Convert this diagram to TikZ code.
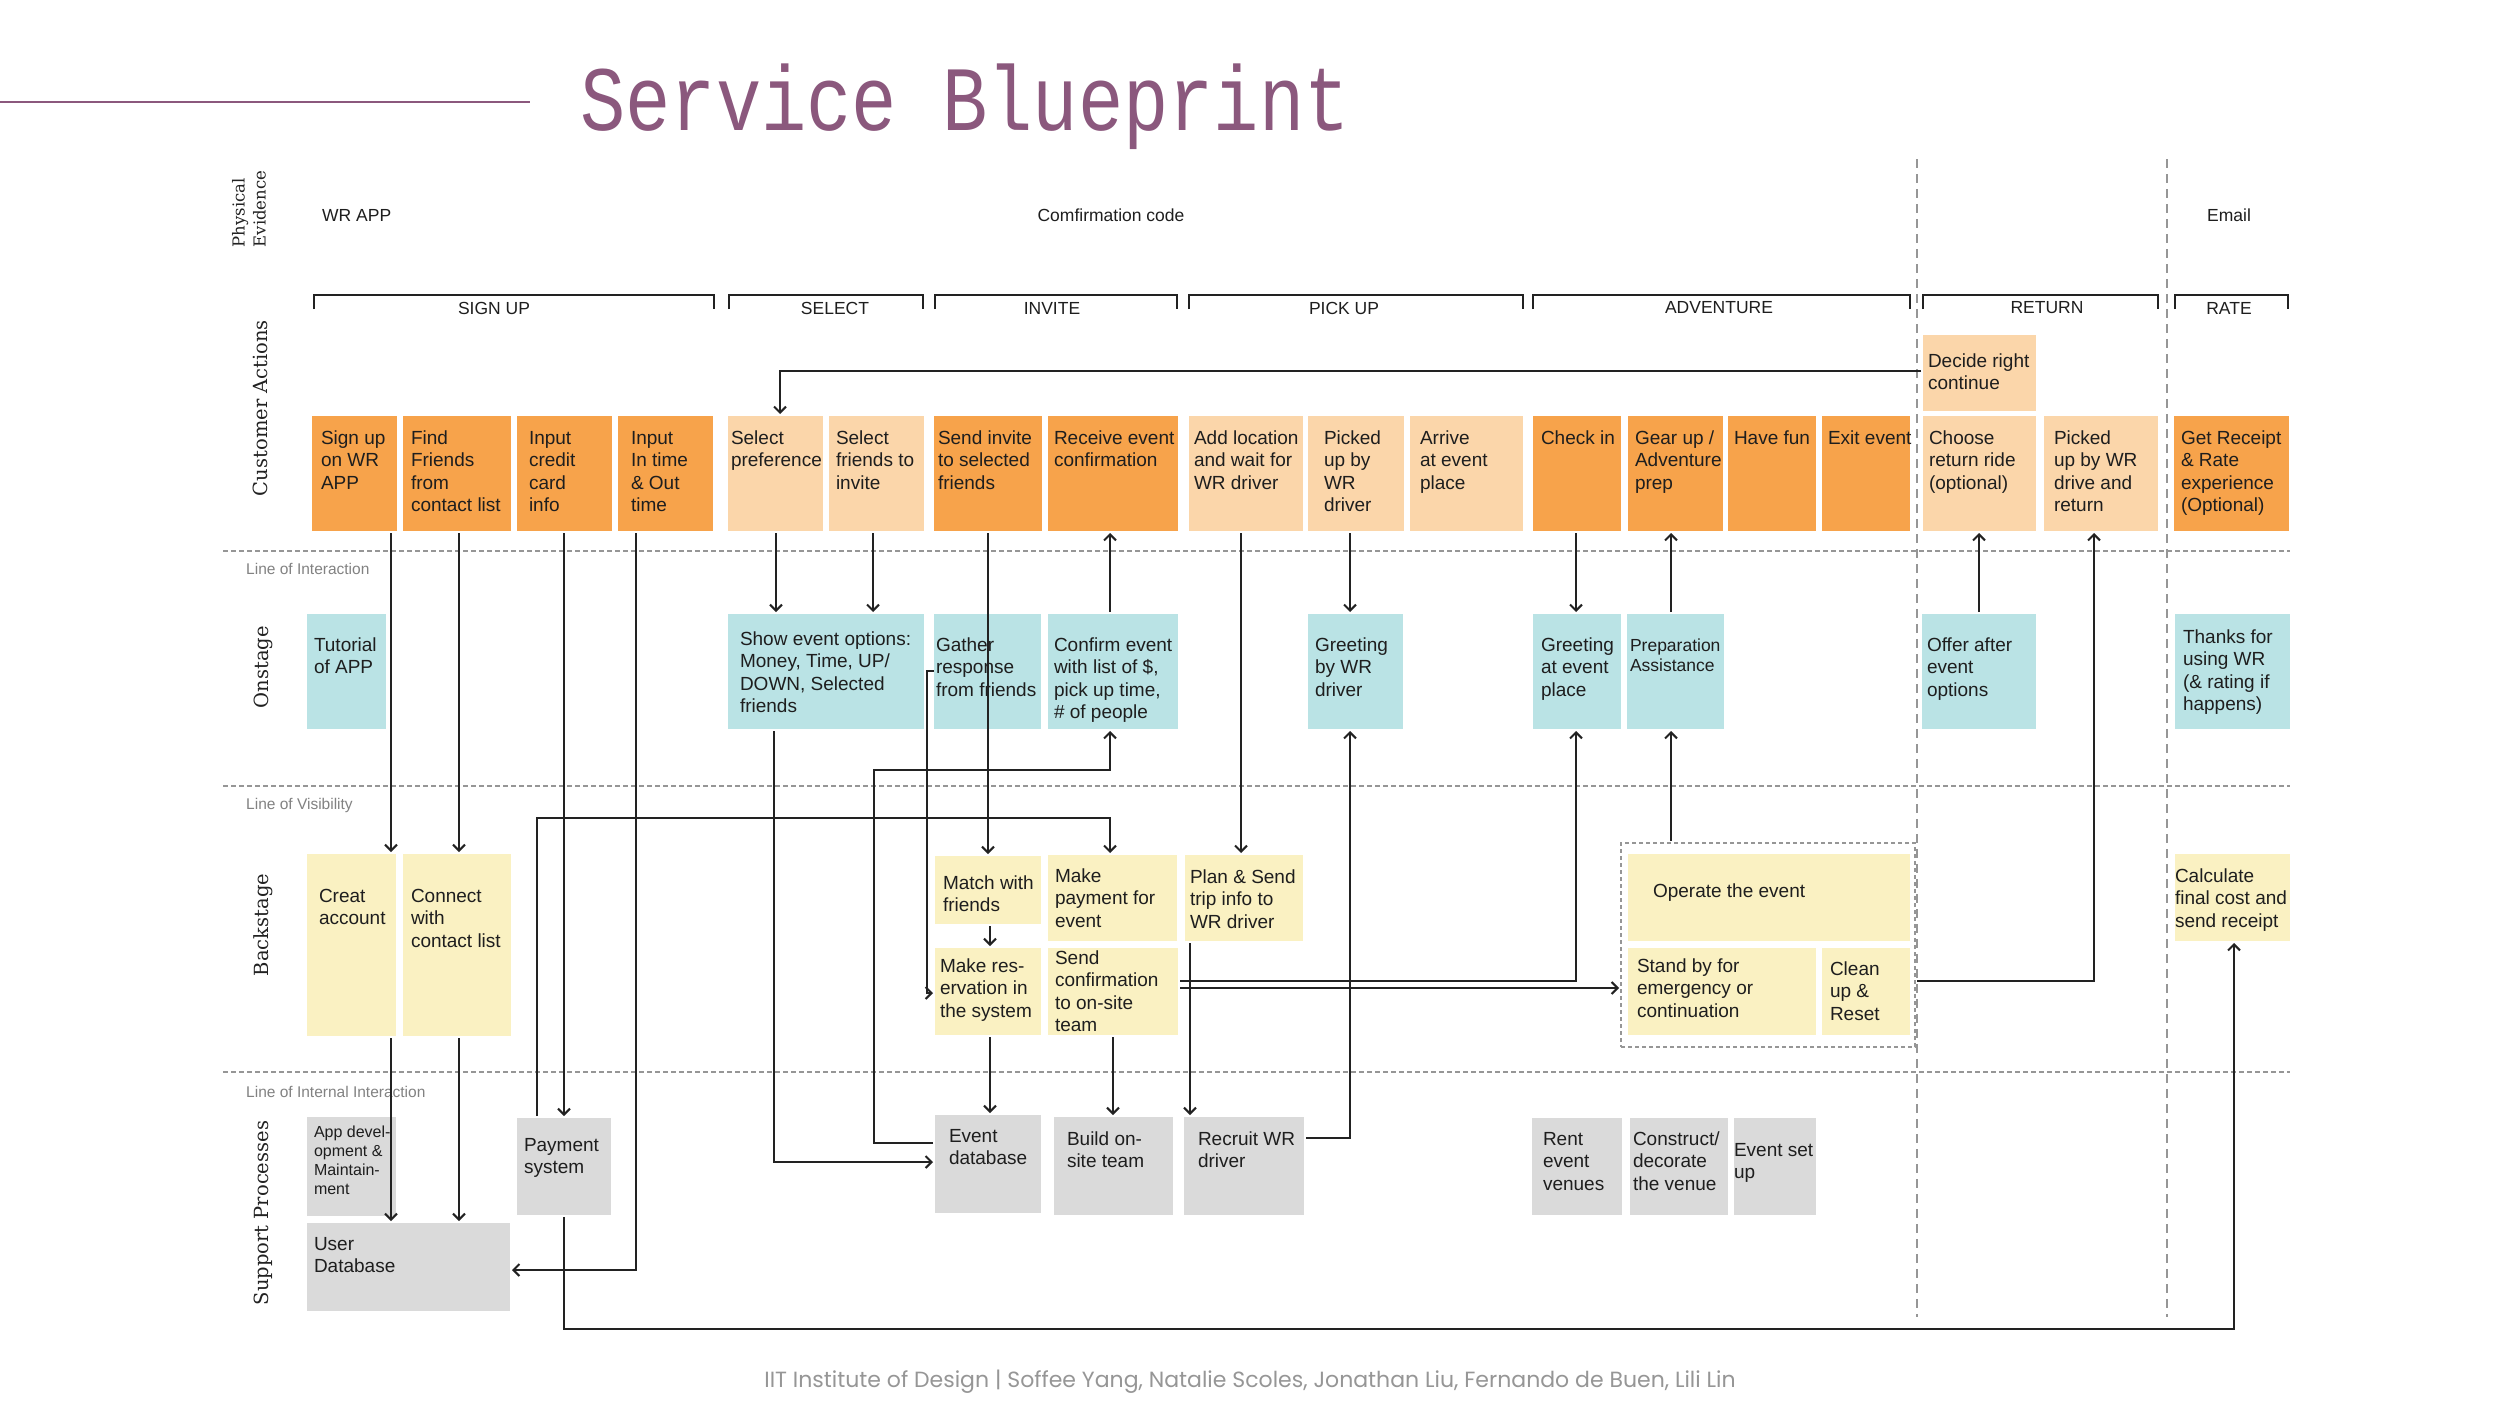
\documentclass[tikz,border=0pt]{standalone}
\usepackage{fontspec}
\setmainfont{Liberation Sans}
\newfontfamily\titlefont{Liberation Mono}[FakeStretch=0.82]
\newfontfamily\lanefont{DejaVu Serif}
\newfontfamily\footfont{Poppins}
\usetikzlibrary{arrows.meta}
\definecolor{orD}{RGB}{247,163,75}
\definecolor{orL}{RGB}{251,214,170}
\definecolor{teal}{RGB}{186,227,229}
\definecolor{yel}{RGB}{250,241,194}
\definecolor{grb}{RGB}{218,218,218}
\definecolor{linec}{RGB}{34,34,34}
\definecolor{txtc}{RGB}{30,30,30}
\definecolor{purp}{RGB}{139,88,125}
\definecolor{sepc}{RGB}{150,150,150}
\definecolor{labc}{RGB}{130,130,130}
\definecolor{footc}{RGB}{150,150,150}
\tikzset{
  boxst/.style={draw=none, inner sep=0pt, outer sep=0pt},
  txt/.style={inner sep=0pt, outer sep=0pt, align=left, text=txtc, font=\fontsize{19}{22.5}\selectfont},
  stxt/.style={txt, font=\fontsize{16}{19}\selectfont},
  ptxt/.style={txt, font=\fontsize{17.5}{20}\selectfont},
  arr/.style={draw=linec, line width=2pt, shorten >=2pt, shorten <=2pt, -{Straight Barb[length=6pt,width=12pt]}},
  lane/.style={rotate=90, inner sep=0pt, text=linec, font=\lanefont\fontsize{19.5}{22}\selectfont},
  brkst/.style={draw=linec, line width=2.5pt},
  brklab/.style={inner sep=0pt, text=txtc, font=\fontsize{17.5}{20}\selectfont},
  petxt/.style={inner sep=0pt, text=txtc, font=\fontsize{17.5}{20}\selectfont},
  sepline/.style={draw=sepc, line width=2pt, dash pattern=on 5pt off 3pt},
  vsep/.style={draw=sepc, line width=1.5pt, dash pattern=on 9pt off 6pt},
  seplab/.style={inner sep=0pt, anchor=west, text=labc, font=\fontsize{15.5}{18}\selectfont},
}
\newcommand\bx[6]{\node[boxst, fill=#2, minimum width={(#5-#3)*1pt}, minimum height={(#6-#4)*1pt}, anchor=north west] (#1) at (#3,#4) {};}
\newcommand\tx[5][txt]{\node[#1, anchor=north west] (#2t) at ([xshift=#3pt, yshift={(17-#4)*1pt}]#2.north west) {\rule{0pt}{17pt}#5};}
\newcommand\brk[5]{\draw[brkst] (#2,309) -- (#2,295) -- (#3,295) -- (#3,309); \node[brklab] (#1) at (#4,308) {#5};}
\begin{document}
\begin{tikzpicture}[x=1pt,y=-1pt]
\useasboundingbox[fill=white] (0,0) rectangle (2500,1406);
% title
\draw[purp, line width=2.5pt] (0,102) -- (530,102);
\node[anchor=base west, inner sep=0pt, text=purp, font=\titlefont\fontsize{92}{92}\selectfont] (title) at (580,130) {Service Blueprint};
% separators
\draw[sepline] (223,551) -- (2290,551);
\draw[sepline] (223,786) -- (2290,786);
\draw[sepline] (223,1072) -- (2290,1072);
\draw[vsep] (1917,159) -- (1917,1317);
\draw[vsep] (2167,159) -- (2167,1317);
\node[seplab] (l1) at (246,569) {Line of Interaction};
\node[seplab] (l2) at (246,805) {Line of Visibility};
\node[seplab] (l3) at (246,1092) {Line of Internal Interaction};
% lane labels
\node[lane, align=left, font=\lanefont\fontsize{16.5}{21}\selectfont] (pe) at (249,209) {Physical\\Evidence};
\node[lane] (lca) at (260,408) {Customer Actions};
\node[lane] (lon) at (263,667) {Onstage};
\node[lane] (lba) at (263,925) {Backstage};
\node[lane] (lsp) at (263,1213) {Support Processes};
% physical evidence
\node[petxt, anchor=west] (pe1) at (322,215) {WR APP};
\node[petxt] (pe2) at (1111,215) {Comfirmation code};
\node[petxt] (pe3) at (2229,215) {Email};
% brackets
\brk{bsign}{314}{714}{494}{SIGN UP}
\brk{bsel}{729}{923}{835}{SELECT}
\brk{binv}{935}{1177}{1052}{INVITE}
\brk{bpick}{1189}{1523}{1344}{PICK UP}
\brk{badv}{1533}{1910}{1719}{ADVENTURE}
\brk{bret}{1923}{2158}{2047}{RETURN}
\brk{brate}{2175}{2288}{2229}{RATE}
% customer actions
\bx{signup}{orD}{312}{416}{397}{531}\tx{signup}{9}{28}{Sign up\\on WR\\APP}
\bx{findf}{orD}{403}{416}{511}{531}\tx{findf}{8}{28}{Find\\Friends\\from\\contact list}
\bx{credit}{orD}{517}{416}{612}{531}\tx{credit}{12}{28}{Input\\credit\\card\\info}
\bx{intime}{orD}{618}{416}{713}{531}\tx{intime}{13}{28}{Input\\In time\\\& Out\\time}
\bx{selpref}{orL}{728}{416}{823}{531}\tx{selpref}{3}{28}{Select\\preference}
\bx{selfr}{orL}{829}{416}{924}{531}\tx{selfr}{7}{28}{Select\\friends to\\invite}
\bx{sendinv}{orD}{934}{416}{1042}{531}\tx{sendinv}{4}{28}{Send invite\\to selected\\friends}
\bx{receive}{orD}{1048}{416}{1178}{531}\tx{receive}{6}{28}{Receive event\\confirmation}
\bx{addloc}{orL}{1189}{416}{1303}{531}\tx{addloc}{5}{28}{Add location\\and wait for\\WR driver}
\bx{pickedup}{orL}{1308}{416}{1404}{531}\tx{pickedup}{16}{28}{Picked\\up by\\WR\\driver}
\bx{arrive}{orL}{1410}{416}{1523}{531}\tx{arrive}{10}{28}{Arrive\\at event\\place}
\bx{checkin}{orD}{1533}{416}{1621}{531}\tx{checkin}{8}{28}{Check in}
\bx{gearup}{orD}{1628}{416}{1723}{531}\tx{gearup}{7}{28}{Gear up /\\Adventure\\prep}
\bx{havefun}{orD}{1728}{416}{1816}{531}\tx{havefun}{6}{28}{Have fun}
\bx{exitev}{orD}{1822}{416}{1910}{531}\tx{exitev}{6}{28}{Exit event}
\bx{choose}{orL}{1923}{416}{2036}{531}\tx{choose}{6}{28}{Choose\\return ride\\(optional)}
\bx{pickret}{orL}{2044}{416}{2158}{531}\tx{pickret}{10}{28}{Picked\\up by WR\\drive and\\return}
\bx{getrec}{orD}{2174}{416}{2289}{531}\tx{getrec}{7}{28}{Get Receipt\\\& Rate\\experience\\(Optional)}
\bx{decide}{orL}{1923}{335}{2036}{411}\tx{decide}{5}{32}{Decide right\\continue}
% onstage
\bx{tutorial}{teal}{307}{614}{386}{729}\tx{tutorial}{7}{37}{Tutorial\\of APP}
\bx{showopt}{teal}{728}{614}{924}{729}\tx{showopt}{12}{31}{Show event options:\\Money, Time, UP/\\DOWN, Selected\\friends}
\bx{gather}{teal}{934}{614}{1041}{729}\tx{gather}{2}{37}{Gather\\response\\from friends}
\bx{confirm}{teal}{1048}{614}{1178}{729}\tx{confirm}{6}{37}{Confirm event\\with list of \$,\\pick up time,\\\# of people}
\bx{greetwr}{teal}{1308}{614}{1403}{729}\tx{greetwr}{7}{37}{Greeting\\by WR\\driver}
\bx{greetev}{teal}{1533}{614}{1621}{729}\tx{greetev}{8}{37}{Greeting\\at event\\place}
\bx{prep}{teal}{1627}{614}{1724}{729}\tx[ptxt]{prep}{3}{37}{Preparation\\Assistance}
\bx{offer}{teal}{1922}{614}{2036}{729}\tx{offer}{5}{37}{Offer after\\event\\options}
\bx{thanks}{teal}{2175}{614}{2290}{729}\tx{thanks}{8}{29}{Thanks for\\using WR\\(\& rating if\\happens)}
% backstage
\bx{creat}{yel}{307}{854}{396}{1036}\tx{creat}{12}{48}{Creat\\account}
\bx{connect}{yel}{403}{854}{511}{1036}\tx{connect}{8}{48}{Connect\\with\\contact list}
\bx{match}{yel}{935}{856}{1041}{924}\tx{match}{8}{33}{Match with\\friends}
\bx{makepay}{yel}{1048}{855}{1177}{941}\tx{makepay}{7}{27}{Make\\payment for\\event}
\bx{plan}{yel}{1185}{855}{1303}{941}\tx{plan}{5}{28}{Plan \& Send\\trip info to\\WR driver}
\bx{makeres}{yel}{935}{948}{1041}{1035}\tx{makeres}{5}{24}{Make res-\\ervation in\\the system}
\bx{sendconf}{yel}{1048}{948}{1178}{1035}\tx{sendconf}{7}{16}{Send\\confirmation\\to on-site\\team}
\node[boxst, draw=sepc, line width=2pt, dash pattern=on 4pt off 3pt, minimum width=294pt, minimum height=204pt, anchor=north west] (opbox) at (1621,843) {};
\bx{operate}{yel}{1628}{854}{1910}{941}\tx{operate}{25}{43}{Operate the event}
\bx{standby}{yel}{1628}{948}{1816}{1035}\tx{standby}{9}{24}{Stand by for\\emergency or\\continuation}
\bx{clean}{yel}{1822}{948}{1910}{1035}\tx{clean}{8}{27}{Clean\\up \&\\Reset}
\bx{calc}{yel}{2175}{854}{2290}{941}\tx{calc}{0}{28}{Calculate\\final cost and\\send receipt}
% support
\bx{appdev}{grb}{307}{1117}{396}{1216}\tx[stxt]{appdev}{7}{20}{App devel-\\opment \&\\Maintain-\\ment}
\bx{payment}{grb}{517}{1118}{611}{1215}\tx{payment}{7}{33}{Payment\\system}
\bx{userdb}{grb}{307}{1223}{510}{1311}\tx{userdb}{7}{27}{User\\Database}
\bx{evdb}{grb}{935}{1115}{1041}{1213}\tx{evdb}{14}{27}{Event\\database}
\bx{build}{grb}{1054}{1117}{1173}{1215}\tx{build}{13}{28}{Build on-\\site team}
\bx{recruit}{grb}{1184}{1117}{1304}{1215}\tx{recruit}{14}{28}{Recruit WR\\driver}
\bx{rent}{grb}{1532}{1118}{1622}{1215}\tx{rent}{11}{27}{Rent\\event\\venues}
\bx{construct}{grb}{1630}{1118}{1728}{1215}\tx{construct}{3}{27}{Construct/\\decorate\\the venue}
\bx{evsetup}{grb}{1734}{1118}{1816}{1215}\tx{evsetup}{0}{38}{Event set\\up}
% connectors
\draw[arr] (391,0 |- signup.south) -- (391,0 |- creat.north);
\draw[arr] (391,0 |- creat.south) -- (391,0 |- userdb.north);
\draw[arr] (459,0 |- findf.south) -- (459,0 |- connect.north);
\draw[arr] (459,0 |- connect.south) -- (459,0 |- userdb.north);
\draw[arr] (564,0 |- credit.south) -- (564,0 |- payment.north);
\draw[arr] (537,0 |- payment.north) -- (537,818) -| (1110,0 |- makepay.north);
\draw[arr] (636,0 |- intime.south) |- (userdb.east |- 0,1270);
\draw[arr] (564,0 |- payment.south) -- (564,1329) -| (2234,0 |- calc.south);
\draw[arr] (776,0 |- selpref.south) -- (776,0 |- showopt.north);
\draw[arr] (873,0 |- selfr.south) -- (873,0 |- showopt.north);
\draw[arr] (774,0 |- showopt.south) |- (evdb.west |- 0,1162);
\draw[arr] (988,0 |- sendinv.south) -- (988,0 |- match.north);
\draw[arr, shorten <=0pt] (gather.west |- 0,671) -- (927,671) |- (makeres.west |- 0,993);
\draw[arr] (990,0 |- match.south) -- (990,0 |- makeres.north);
\draw[arr] (990,0 |- makeres.south) -- (990,0 |- evdb.north);
\draw[arr] (evdb.west |- 0,1143) -| (874,770) -| (1110,0 |- confirm.south);
\draw[arr] (1110,0 |- confirm.north) -- (1110,0 |- receive.south);
\draw[arr] (1113,0 |- sendconf.south) -- (1113,0 |- build.north);
\draw[arr] (sendconf.east |- 0,981) -| (1576,0 |- greetev.south);
\draw[arr] (sendconf.east |- 0,988) -- (opbox.west |- 0,988);
\draw[arr] (1241,0 |- addloc.south) -- (1241,0 |- plan.north);
\draw[arr] (1190,0 |- plan.south) -- (1190,0 |- recruit.north);
\draw[arr] (recruit.east |- 0,1138) -| (1350,0 |- greetwr.south);
\draw[arr] (1350,0 |- pickedup.south) -- (1350,0 |- greetwr.north);
\draw[arr] (1576,0 |- checkin.south) -- (1576,0 |- greetev.north);
\draw[arr] (1671,0 |- prep.north) -- (1671,0 |- gearup.south);
\draw[arr] (1671,0 |- opbox.north) -- (1671,0 |- prep.south);
\draw[arr] (opbox.east |- 0,981) -| (2094,0 |- pickret.south);
\draw[arr] (1979,0 |- offer.north) -- (1979,0 |- choose.south);
\draw[arr] (decide.west |- 0,371) -| (780,0 |- selpref.north);
% footer
\node[inner sep=0pt, text=footc, font=\footfont\fontsize{22}{26}\selectfont] (footer) at (1250,1382) {IIT Institute of Design | Soffee Yang, Natalie Scoles, Jonathan Liu, Fernando de Buen, Lili Lin};
\end{tikzpicture}
\end{document}
